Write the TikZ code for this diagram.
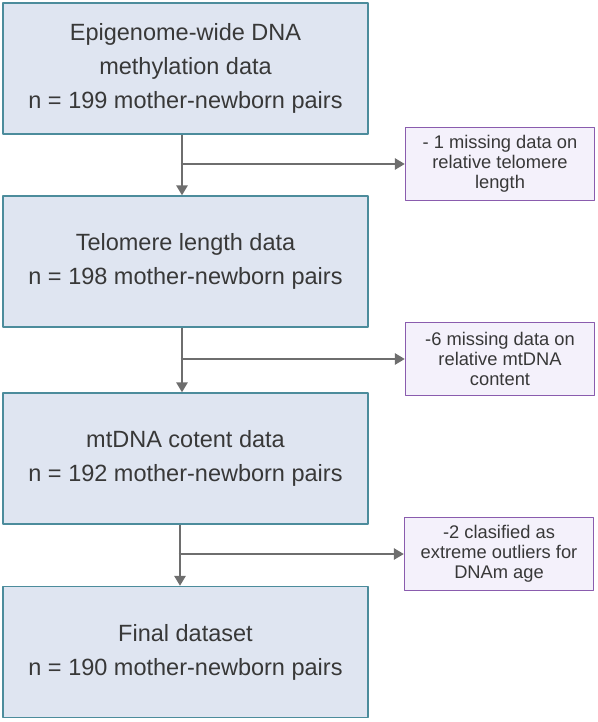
\documentclass[tikz,border=0pt]{standalone}
\usepackage{fontspec}
\setmainfont{Liberation Sans}
\usetikzlibrary{arrows.meta, positioning}

\definecolor{boxfill}{HTML}{DFE5F1}
\definecolor{boxline}{HTML}{4C8C9C}
\definecolor{notefill}{HTML}{F4F1FB}
\definecolor{noteline}{HTML}{8A5CAE}
\definecolor{flowgray}{HTML}{6E6E6E}
\definecolor{txtgray}{HTML}{383838}

\begin{document}
\begin{tikzpicture}[x=1pt,y=1pt,line cap=round,line join=round,
  mainbox/.style={draw=boxline, fill=boxfill, line width=1.2pt, minimum width=365pt,
    minimum height=131pt, inner sep=0pt, align=center, text=txtgray,
    font=\fontsize{23.5}{34}\selectfont},
  notebox/.style={draw=noteline, fill=notefill, line width=1.2pt, minimum width=189pt,
    minimum height=73pt, inner sep=0pt, align=center, text=txtgray,
    font=\fontsize{18.3}{20}\selectfont},
  flow/.style={draw=flowgray, line width=2.6pt, line cap=butt,
    -{Triangle[length=10pt,width=11pt]}}]

\useasboundingbox (0,0) rectangle (597,-722);

% main boxes
\node[mainbox] (epi)   at (185.5,-68.5)  {Epigenome-wide DNA\\methylation data\\n = 199 mother-newborn pairs};
\node[mainbox] (telo)  at (185.5,-261.5) {Telomere length data\\n = 198 mother-newborn pairs};
\node[mainbox] (mtdna) at (185.5,-458.5) {mtDNA cotent data\\n = 192 mother-newborn pairs};
\node[mainbox] (final) at (185.5,-652)   {Final dataset\\n = 190 mother-newborn pairs};

% exclusion notes
\node[notebox] (miss1) at (500,-164) {- 1 missing data on\\relative telomere\\length};
\node[notebox] (miss2) at (500,-359) {-6 missing data on\\relative mtDNA\\content};
\node[notebox] (miss3) at (499,-554) {-2 clasified as\\extreme outliers for\\DNAm age};

% branch points
\coordinate (b1) at (182,-164);
\coordinate (b2) at (182,-359);
\coordinate (b3) at (180,-554);

% flow
\draw[flow] (epi.south -| b1) -- (telo.north -| b1);
\draw[flow] (telo.south -| b2) -- (mtdna.north -| b2);
\draw[flow] (mtdna.south -| b3) -- (final.north -| b3);
\draw[flow] ([xshift=-1.3pt]b1) -- (miss1.west);
\draw[flow] ([xshift=-1.3pt]b2) -- (miss2.west);
\draw[flow] ([xshift=-1.3pt]b3) -- (miss3.west);

\end{tikzpicture}
\end{document}
